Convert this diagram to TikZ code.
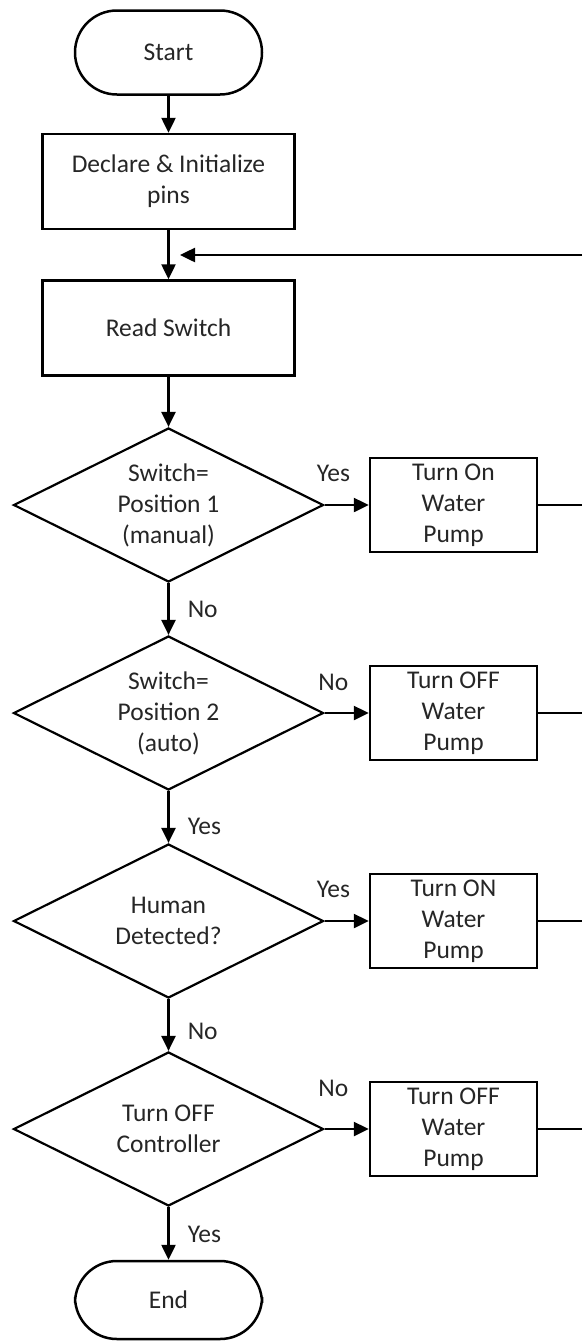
\documentclass[tikz,border=0pt]{standalone}
\usepackage{fontspec}
\setmainfont{Carlito}
\usepackage{tikz}
\usetikzlibrary{shapes.geometric,arrows.meta,positioning}

\begin{document}
\begin{tikzpicture}[x=1pt,y=1pt,on grid,line width=2.5pt,
                    font=\fontsize{25.5}{31}\selectfont,text=black!85,
                    >={Triangle[length=15pt,width=14pt]},
                    terminal/.style={draw,rectangle,rounded corners=41.9pt,minimum width=187pt,minimum height=84pt,inner sep=0pt},
                    process/.style={draw,rectangle,minimum width=252pt,minimum height=95pt,align=center},
                    decision/.style={draw,diamond,aspect=2,line width=2.2pt,minimum width=310pt,minimum height=154pt,inner sep=0pt,align=center},
                    action/.style={draw,rectangle,minimum width=167pt,minimum height=94pt,inner sep=0pt,align=center},
                    lbl/.style={inner sep=0pt}]
                      \useasboundingbox (0,0) rectangle (582,-1342);
                      \node[terminal] (start) at (168.5,-52.5) {Start};
                      \node[process] (init) [below=129pt of start] {Declare \& Initialize\\pins};
                      \node[process] (read) [below=146.5pt of init] {Read Switch};
                      \node[decision] (sw1) [below=177pt of read] {Switch=\\Position 1\\(manual)};
                      \node[decision] (sw2) [below=208pt of sw1] {Switch=\\Position 2\\(auto)};
                      \node[decision] (human) [below=208pt of sw2] {Human\\Detected?};
                      \node[decision] (ctrl) [below=208pt of human] {Turn OFF\\Controller};
                      \node[terminal,minimum height=78pt] (end) [below=171pt of ctrl] {End};
                      \node[action] (pump1) [right=285pt of sw1] {Turn On\\Water\\Pump};
                      \node[action] (pump2) [right=285pt of sw2] {Turn OFF\\Water\\Pump};
                      \node[action] (pump3) [right=285pt of human] {Turn ON\\Water\\Pump};
                      \node[action] (pump4) [right=285pt of ctrl] {Turn OFF\\Water\\Pump};
                      % lines leaving the picture on the right
                      \coordinate (back) at (582,-255);
                      \coordinate (join) at (180,-255);
                      \coordinate (out1) at (pump1.east -| back);
                      \coordinate (out2) at (pump2.east -| back);
                      \coordinate (out3) at (pump3.east -| back);
                      \coordinate (out4) at (pump4.east -| back);
                      \path[->]
                      (start) edge (init)
                      (init) edge (read)
                      (read) edge (sw1)
                      (sw1) edge node[lbl,pos=0.5,right=18pt]{No} (sw2)
                      (sw2) edge node[lbl,pos=0.68,right=18pt]{Yes} (human)
                      (human) edge node[lbl,pos=0.63,right=18pt]{No} (ctrl)
                      (ctrl) edge node[lbl,pos=0.52,right=18pt]{Yes} (end)
                      (sw1) edge node[lbl,pos=0.2,above=22pt]{Yes} (pump1)
                      (sw2) edge node[lbl,pos=0.2,above=21pt]{No} (pump2)
                      (human) edge node[lbl,pos=0.2,above=22pt]{Yes} (pump3)
                      (ctrl) edge node[lbl,pos=0.2,above=31pt]{No} (pump4)
                      (back) edge (join);
                      \draw (pump1) -- (out1);
                      \draw (pump2) -- (out2);
                      \draw (pump3) -- (out3);
                      \draw (pump4) -- (out4);
                  \end{tikzpicture}
\end{document}
